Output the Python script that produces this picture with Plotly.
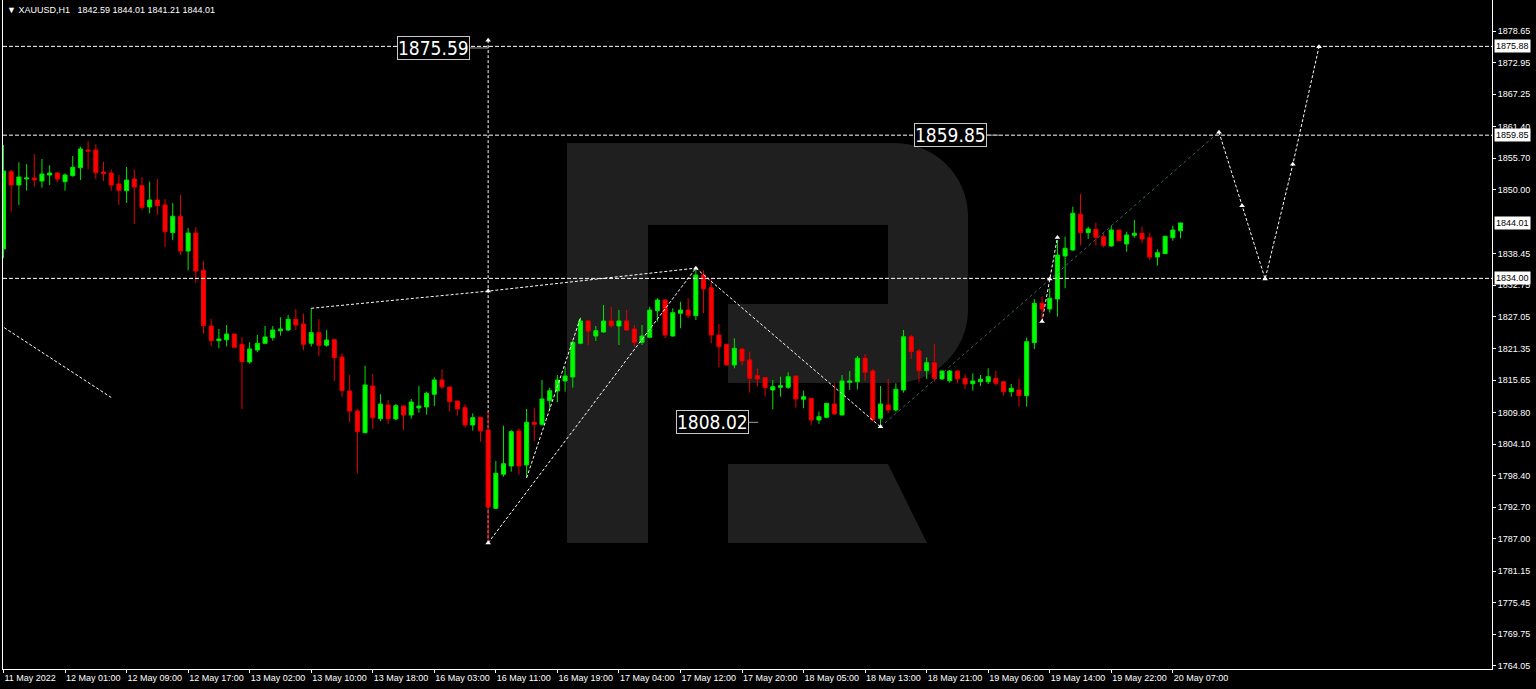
import plotly.graph_objects as go

# ---------------- data (XAUUSD H1) ----------------
opens = [1839.31,1853.26,1850.86,1851.94,1852.12,1851.58,1852.66,1853.02,1851.45,1852.54,
         1853.98,1857.17,1857.17,1853.20,1853.02,1851.04,1849.83,1851.94,1850.73,1846.89,
         1848.15,1847.25,1842.25,1845.21,1838.94,1842.19,1835.46,1825.41,1822.75,1822.93,
         1823.96,1822.10,1818.91,1821.07,1822.28,1823.30,1824.56,1824.68,1826.62,1825.77,
         1822.28,1824.20,1821.92,1822.93,1819.81,1813.67,1810.06,1806.15,1814.58,1808.67,
         1811.15,1808.62,1810.97,1809.34,1810.61,1810.79,1813.08,1815.66,1814.40,1811.87,
         1810.66,1807.54,1808.93,1806.63,1792.50,1798.64,1800.14,1806.45,1800.32,1808.02,
         1807.66,1811.92,1813.67,1815.48,1816.20,1822.28,1826.31,1823.60,1824.32,1826.31,
         1825.41,1826.31,1824.87,1822.46,1823.37,1828.17,1830.10,1823.60,1827.70,1828.29,
         1827.27,1834.61,1832.32,1823.78,1822.10,1818.37,1821.25,1819.27,1816.44,1816.07,
         1813.85,1814.34,1814.34,1816.38,1812.18,1812.36,1808.44,1808.93,1811.33,1809.34,
         1815.24,1815.35,1819.58,1817.28,1808.75,1811.15,1810.24,1813.85,1823.48,1820.89,
         1817.34,1818.78,1815.84,1815.53,1817.28,1815.97,1814.99,1815.35,1815.35,1815.97,
         1815.35,1813.55,1813.85,1812.83,1822.39,1829.50,1828.48,1830.28,1838.04,1839.12,
         1845.57,1842.25,1842.86,1841.53,1839.85,1842.73,1840.21,1841.78,1842.14,1841.34,
         1837.86,1838.46,1841.34,1842.59]
highs = [1858.08,1853.56,1854.95,1854.59,1856.45,1855.55,1854.41,1853.20,1852.97,1856.09,
         1857.77,1858.75,1858.20,1855.06,1853.69,1852.66,1854.11,1853.69,1852.30,1851.45,
         1851.94,1848.33,1847.61,1849.05,1843.10,1843.28,1837.14,1826.67,1824.87,1825.59,
         1824.00,1823.42,1822.46,1823.78,1825.41,1825.41,1826.98,1827.39,1828.48,1827.63,
         1828.60,1826.62,1824.68,1822.95,1820.48,1816.56,1810.43,1818.24,1816.74,1813.08,
         1812.05,1811.33,1811.00,1812.23,1814.58,1813.55,1816.15,1817.59,1814.45,1811.90,
         1811.27,1809.65,1808.95,1809.94,1801.04,1807.41,1806.63,1806.94,1810.43,1810.66,
         1815.66,1814.27,1816.56,1818.06,1822.70,1826.91,1826.35,1825.41,1829.20,1828.84,
         1828.29,1828.29,1825.59,1825.59,1828.89,1830.41,1830.20,1828.60,1829.79,1830.41,
         1835.82,1835.50,1833.84,1825.77,1822.20,1823.19,1821.30,1820.77,1817.77,1816.10,
         1815.66,1816.25,1817.05,1816.40,1813.73,1812.40,1809.94,1811.50,1815.06,1816.56,
         1817.28,1819.99,1820.35,1817.65,1814.58,1815.84,1815.06,1824.68,1823.78,1821.25,
         1819.76,1822.16,1817.35,1817.46,1817.35,1816.69,1816.87,1816.56,1817.77,1817.34,
         1815.45,1814.94,1815.84,1823.30,1830.28,1830.70,1832.21,1840.93,1841.53,1846.94,
         1849.23,1843.33,1844.05,1842.14,1843.51,1842.80,1842.43,1844.54,1843.33,1842.25,
         1839.25,1841.60,1843.51,1844.01]
lows = [1837.63,1846.04,1847.25,1849.83,1850.55,1850.37,1850.86,1851.40,1849.83,1852.36,
        1851.76,1853.75,1851.94,1851.58,1849.83,1847.25,1847.61,1843.82,1846.34,1845.75,
        1845.44,1839.67,1840.88,1838.22,1835.46,1833.17,1824.02,1821.80,1821.38,1821.74,
        1821.50,1810.43,1818.60,1820.66,1822.10,1822.75,1823.66,1824.50,1824.68,1821.07,
        1821.71,1819.99,1821.67,1815.48,1812.65,1808.02,1798.82,1806.00,1806.82,1808.21,
        1807.72,1808.44,1806.63,1808.67,1809.76,1809.40,1810.97,1814.04,1809.94,1809.22,
        1807.05,1806.51,1804.52,1786.24,1792.38,1798.21,1799.11,1798.64,1798.03,1804.65,
        1807.41,1810.24,1811.63,1813.55,1814.27,1822.10,1821.92,1822.70,1824.20,1825.14,
        1821.98,1824.56,1821.67,1821.98,1823.19,1826.18,1823.19,1823.50,1824.99,1826.80,
        1826.49,1827.70,1822.28,1817.95,1818.30,1817.77,1818.30,1813.37,1814.45,1812.65,
        1810.37,1812.65,1814.04,1810.66,1810.55,1807.54,1807.72,1808.75,1809.45,1809.30,
        1813.85,1813.98,1815.53,1808.26,1807.23,1809.65,1809.94,1813.37,1819.45,1815.24,
        1815.84,1815.35,1815.66,1815.17,1815.06,1814.04,1813.73,1814.58,1814.94,1814.63,
        1812.83,1812.65,1810.84,1810.84,1821.25,1826.49,1827.81,1827.09,1832.21,1839.00,
        1839.97,1841.11,1839.97,1839.61,1839.70,1840.75,1838.82,1841.34,1840.33,1837.32,
        1836.29,1838.40,1840.80,1841.21]
closes = [1853.38,1850.86,1852.30,1852.12,1851.76,1852.84,1853.02,1851.94,1852.66,1854.05,
          1857.36,1856.99,1853.08,1852.90,1850.86,1849.90,1851.76,1850.50,1846.83,1848.15,
          1847.12,1842.43,1845.21,1838.94,1842.19,1835.33,1825.46,1822.75,1823.06,1823.96,
          1821.56,1818.96,1821.25,1822.28,1823.42,1824.68,1824.87,1826.62,1825.59,1822.10,
          1824.20,1821.92,1822.88,1819.69,1813.73,1810.06,1806.33,1814.76,1808.86,1811.33,
          1808.67,1811.02,1809.34,1811.69,1810.97,1813.26,1815.66,1814.40,1811.74,1810.43,
          1807.54,1808.86,1806.45,1792.74,1798.82,1800.55,1806.33,1800.14,1808.02,1807.66,
          1812.23,1813.73,1815.66,1816.38,1822.46,1826.31,1824.50,1824.56,1826.31,1825.44,
          1826.31,1824.68,1822.46,1823.60,1828.29,1830.10,1823.78,1827.81,1828.29,1827.34,
          1834.61,1832.09,1823.78,1821.67,1818.37,1821.38,1819.09,1815.97,1815.84,1814.27,
          1814.45,1814.63,1816.25,1812.23,1812.65,1808.44,1809.04,1811.45,1809.52,1815.48,
          1815.48,1819.58,1817.05,1808.44,1811.33,1810.24,1813.98,1823.48,1820.77,1817.34,
          1818.78,1815.97,1817.28,1817.28,1815.84,1814.94,1815.48,1815.79,1816.25,1815.06,
          1813.55,1814.16,1812.83,1822.57,1829.50,1828.48,1830.41,1838.22,1839.43,1845.75,
          1842.25,1842.92,1841.42,1839.97,1842.73,1840.80,1841.83,1842.14,1841.11,1837.86,
          1838.64,1841.60,1842.73,1844.01]
bars = list(range(len(opens)))

time_tick_bars = list(range(0, 153, 8))
time_tick_text = ["11 May 2022", "12 May 01:00", "12 May 09:00", "12 May 17:00", "13 May 02:00",
                  "13 May 10:00", "13 May 18:00", "16 May 03:00", "16 May 11:00", "16 May 19:00",
                  "17 May 04:00", "17 May 12:00", "17 May 20:00", "18 May 05:00", "18 May 13:00",
                  "18 May 21:00", "19 May 06:00", "19 May 14:00", "19 May 22:00", "20 May 07:00"]
price_ticks = [1878.65, 1872.95, 1867.25, 1861.40, 1855.70, 1850.00, 1838.45, 1832.75, 1827.05,
               1821.35, 1815.65, 1809.80, 1804.10, 1798.40, 1792.70, 1787.00, 1781.15, 1775.45,
               1769.75, 1764.05]

levels = [1875.88, 1859.85, 1834.00]
last_price = 1844.01

# wave / analysis lines (bar index, price)
wave_left_x = [-1, 14];            wave_left_y = [1826.1, 1812.5]
wave_b_x = [40, 63, 90];           wave_b_y = [1828.6, 1831.7, 1835.85]
vert_x = [63, 63];                 vert_y = [1877.0, 1786.25]
wave_l1_x = [63, 90];              wave_l1_y = [1786.25, 1835.85]
wave_l2_x = [68, 75];              wave_l2_y = [1798.0, 1826.9]
wave_m_x = [90, 114];              wave_m_y = [1835.85, 1807.2]
trend_x = [114, 158];              trend_y = [1807.2, 1860.4]
wave_s_x = [135, 136, 137];        wave_s_y = [1826.2, 1833.9, 1841.4]
proj_x = [158, 161, 164, 167.6, 171]
proj_y = [1860.4, 1847.1, 1833.9, 1854.6, 1875.8]
marker_x = [63, 63, 63, 90, 114, 135, 136, 137, 158, 161, 164, 167.6, 171]
marker_y = [1877.0, 1831.7, 1786.25, 1835.85, 1807.2, 1826.2, 1833.9, 1841.4,
            1860.4, 1847.1, 1833.9, 1854.6, 1875.8]

labels_text = ["1875.59", "1859.85", "1808.02"]
labels_price = [1875.59, 1859.85, 1808.02]
labels_bar = [60.6, 127.9, 96.9]
labels_tail = [63.0, 129.4, 98.1]

# ---------------- layout geometry ----------------
W, H = 1536, 689
ML, MR, MT, MB = 3, 44, 0, 20
PW, PH = W - ML - MR, H - MT - MB
X_RANGE = [-0.065, 193.49]
Y_RANGE = [1763.49, 1884.25]


def px2paper(px, py):
    return (px - ML) / PW, (H - MB - py) / PH


def path_from_px(cmds):
    out = []
    for c in cmds:
        if c[0] in ("M", "L"):
            x, y = px2paper(c[1], c[2])
            out.append(f"{c[0]}{x:.5f},{y:.5f}")
        elif c[0] == "C":
            pts = [px2paper(c[i], c[i + 1]) for i in (1, 3, 5)]
            out.append("C" + " ".join(f"{a:.5f},{b:.5f}" for a, b in pts))
        else:
            out.append("Z")
    return " ".join(out)


R_BODY = [("M", 567, 143), ("L", 895, 143), ("C", 935, 143, 968, 176, 968, 216),
          ("L", 968, 310), ("C", 968, 350, 935, 383, 895, 383), ("L", 728, 383),
          ("L", 728, 304), ("L", 888, 304), ("L", 888, 225), ("L", 648, 225),
          ("L", 648, 543), ("L", 567, 543), ("Z",)]
R_LEG = [("M", 728, 464), ("L", 888, 464), ("L", 927, 543), ("L", 728, 543), ("Z",)]

fig = go.Figure()

white_dot = dict(color="white", width=1, dash="3px,2px")
for xs, ys in [(wave_left_x, wave_left_y), (wave_b_x, wave_b_y),
               (wave_l1_x, wave_l1_y), (wave_l2_x, wave_l2_y), (wave_m_x, wave_m_y),
               (wave_s_x, wave_s_y), (proj_x, proj_y)]:
    fig.add_trace(go.Scatter(x=xs, y=ys, mode="lines", line=white_dot,
                             hoverinfo="skip", showlegend=False))
fig.add_trace(go.Scatter(x=trend_x, y=trend_y, mode="lines",
                         line=dict(color="#3f6464", width=1, dash="3px,3px"),
                         hoverinfo="skip", showlegend=False))

fig.add_trace(go.Candlestick(
    x=bars, open=opens, high=highs, low=lows, close=closes,
    increasing=dict(line=dict(color="#00e600", width=1), fillcolor="#00ff00"),
    decreasing=dict(line=dict(color="#e60000", width=1), fillcolor="#ff0000"),
    whiskerwidth=0, hoverinfo="skip", showlegend=False))

fig.add_trace(go.Scatter(x=marker_x, y=marker_y, mode="markers",
                         marker=dict(symbol="triangle-up", size=5, color="white"),
                         hoverinfo="skip", showlegend=False))

shapes = [
    dict(type="path", xref="paper", yref="paper", path=path_from_px(R_BODY),
         fillcolor="#1f1f1f", line=dict(width=0), layer="below"),
    dict(type="path", xref="paper", yref="paper", path=path_from_px(R_LEG),
         fillcolor="#1f1f1f", line=dict(width=0), layer="below"),
    # vertical time marker drawn beneath the candles
    dict(type="line", xref="x", yref="y", x0=vert_x[0], x1=vert_x[1],
         y0=vert_y[0], y1=vert_y[1], layer="below",
         line=dict(color="white", width=1, dash="3px,2px")),
]
for lv in levels:
    shapes.append(dict(type="line", xref="paper", yref="y", x0=0, x1=1, y0=lv, y1=lv,
                       line=dict(color="white", width=1, dash="4px,2px")))
for xb, xt, p in zip(labels_bar, labels_tail, labels_price):
    shapes.append(dict(type="line", xref="x", yref="y", x0=xb, x1=xt, y0=p, y1=p,
                       line=dict(color="#a0a0a0", width=1)))

annotations = []
for t, p, xb in zip(labels_text, labels_price, labels_bar):
    annotations.append(dict(
        x=xb, y=p, xref="x", yref="y", xanchor="right", yanchor="middle",
        text=t, showarrow=False,
        font=dict(family="Liberation Sans Narrow, Arial Narrow, DejaVu Sans Condensed, sans-serif",
                  size=19, color="white"),
        bgcolor="black", bordercolor="#c8c8c8", borderwidth=1, borderpad=0))

for p in levels + [last_price]:
    annotations.append(dict(
        x=1, y=p, xref="paper", yref="y", xanchor="left", yanchor="middle", xshift=2,
        text=f"{p:.2f}", showarrow=False,
        font=dict(family="Liberation Sans, Arial, sans-serif", size=9, color="black"),
        bgcolor="white", borderpad=1))

annotations.append(dict(
    x=px2paper(5, 0)[0], y=px2paper(0, 10)[1], xref="paper", yref="paper",
    xanchor="left", yanchor="middle", showarrow=False,
    text="\u25BC XAUUSD,H1\u00a0\u00a0 1842.59 1844.01 1841.21 1844.01",
    font=dict(family="Liberation Sans, Arial, sans-serif", size=9, color="white")))

fig.update_layout(
    width=W, height=H,
    margin=dict(l=ML, r=MR, t=MT, b=MB, pad=0, autoexpand=False),
    paper_bgcolor="black", plot_bgcolor="black",
    boxgap=0.3, boxgroupgap=0.25,
    shapes=shapes, annotations=annotations,
    showlegend=False,
    xaxis=dict(range=X_RANGE, showgrid=False, zeroline=False, automargin=False,
               rangeslider=dict(visible=False),
               showline=True, linecolor="white", linewidth=1,
               ticks="outside", ticklen=3, tickcolor="white", tickangle=0,
               tickmode="array", tickvals=time_tick_bars, ticktext=time_tick_text,
               ticklabelposition="outside right",
               tickfont=dict(family="Liberation Sans, Arial, sans-serif", size=9, color="white")),
    yaxis=dict(range=Y_RANGE, side="right", showgrid=False, zeroline=False, automargin=False,
               showline=True, mirror=True, linecolor="white", linewidth=1,
               ticks="outside", ticklen=3, tickcolor="white",
               tickmode="array", tickvals=price_ticks,
               ticktext=[f"{v:.2f}" for v in price_ticks],
               tickfont=dict(family="Liberation Sans, Arial, sans-serif", size=9, color="white")),
)

fig.write_html("out.html", config={"displayModeBar": False},
               post_script="document.body.style.margin='0';document.body.style.overflow='hidden';")
